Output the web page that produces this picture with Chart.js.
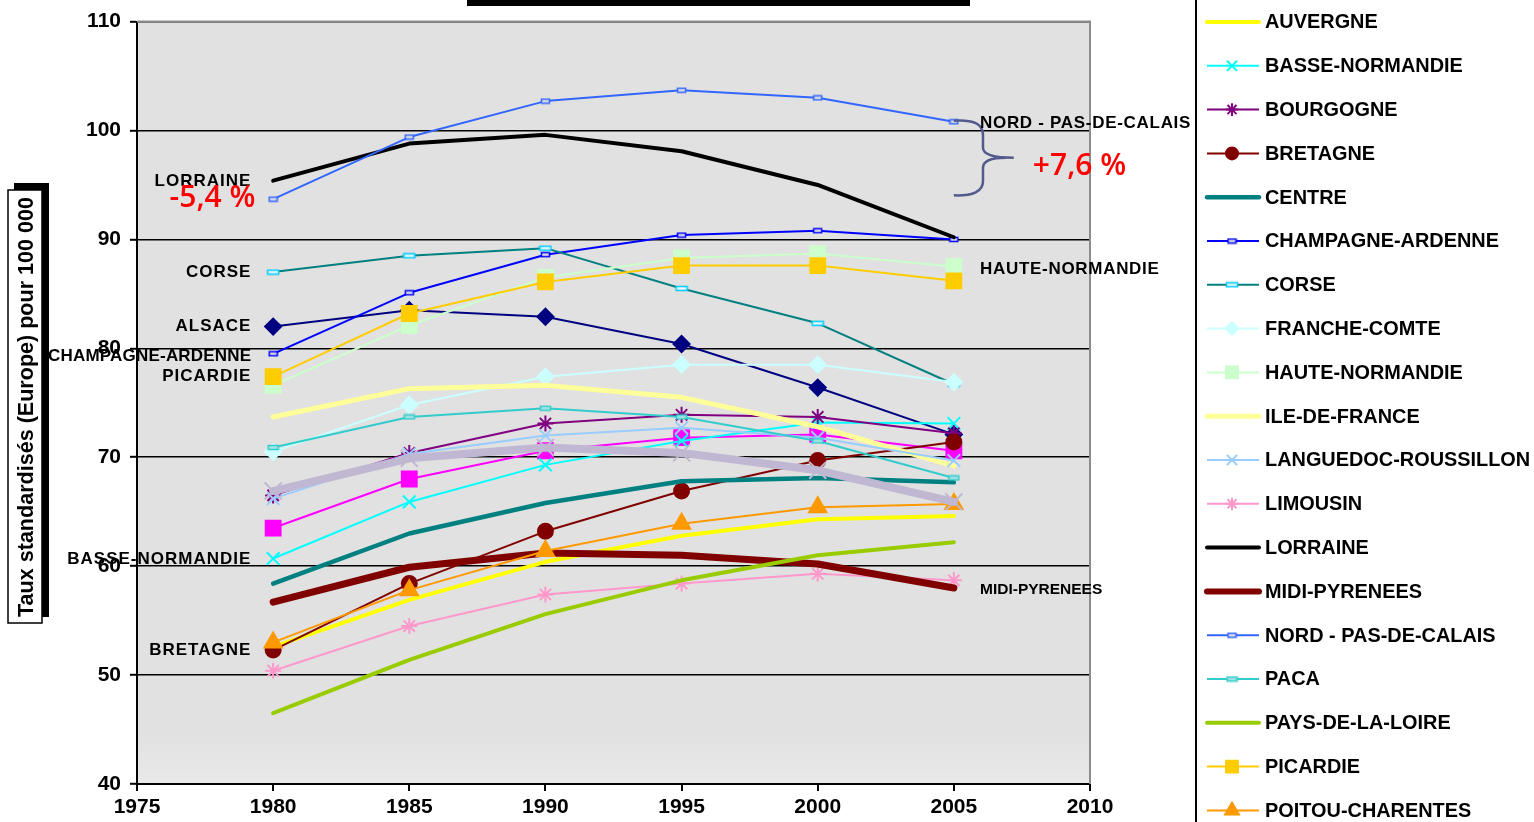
<!DOCTYPE html>
<html lang="fr">
<head>
<meta charset="utf-8">
<title>Taux standardisés par région</title>
<script src="https://cdn.jsdelivr.net/npm/chart.js"></script>
<style>
  html, body { margin: 0; padding: 0; background: #fff; }
  #wrap { position: relative; width: 1534px; height: 822px; overflow: hidden; }
  canvas { display: block; }
</style>
</head>
<body>
<div id="wrap"><canvas id="chart" width="1534" height="822"></canvas></div>
<script>
// --- data ---
const years = [1980, 1985, 1990, 1995, 2000, 2005];

const xTickValues = [1975, 1980, 1985, 1990, 1995, 2000, 2005, 2010];
const xTickLabels = ['1975', '1980', '1985', '1990', '1995', '2000', '2005', '2010'];
const yTickValues = [40, 50, 60, 70, 80, 90, 100, 110];
const yTickLabels = ['40', '50', '60', '70', '80', '90', '100', '110'];

const regions = ['ALSACE', 'AQUITAINE', 'AUVERGNE', 'BASSE-NORMANDIE', 'BOURGOGNE', 'BRETAGNE',
  'CENTRE', 'CHAMPAGNE-ARDENNE', 'CORSE', 'FRANCHE-COMTE', 'HAUTE-NORMANDIE', 'ILE-DE-FRANCE',
  'LANGUEDOC-ROUSSILLON', 'LIMOUSIN', 'LORRAINE', 'MIDI-PYRENEES', 'NORD - PAS-DE-CALAIS', 'PACA',
  'PAYS-DE-LA-LOIRE', 'PICARDIE', 'POITOU-CHARENTES', 'RHONE-ALPES'];

const alsace         = [82.0, 83.5, 82.9, 80.4, 76.4, 72.1];
const aquitaine      = [63.5, 68.0, 70.6, 71.8, 72.1, 70.6];
const auvergne       = [52.6, 56.9, 60.4, 62.8, 64.3, 64.6];
const basseNormandie = [60.7, 65.9, 69.3, 71.5, 73.2, 73.1];
const bourgogne      = [66.5, 70.4, 73.1, 73.9, 73.7, 72.2];
const bretagne       = [52.3, 58.4, 63.2, 66.9, 69.7, 71.4];
const centre         = [58.4, 63.0, 65.8, 67.8, 68.1, 67.7];
const champagne      = [79.5, 85.1, 88.6, 90.4, 90.8, 90.0];
const corse          = [87.0, 88.5, 89.2, 85.5, 82.3, 76.7];
const francheComte   = [70.5, 74.8, 77.4, 78.5, 78.5, 76.9];
const hauteNormandie = [76.6, 82.1, 86.5, 88.3, 88.7, 87.5];
const ileDeFrance    = [73.7, 76.3, 76.6, 75.5, 72.8, 69.2];
const languedoc      = [66.2, 70.3, 72.0, 72.7, 71.8, 69.7];
const limousin       = [50.4, 54.5, 57.4, 58.4, 59.3, 58.7];
const lorraine       = [95.4, 98.8, 99.6, 98.1, 95.0, 90.2];
const midiPyrenees   = [56.7, 59.9, 61.2, 61.0, 60.2, 58.0];
const nordPdc        = [93.7, 99.4, 102.7, 103.7, 103.0, 100.8];
const paca           = [70.9, 73.7, 74.5, 73.7, 71.5, 68.1];
const paysLoire      = [46.5, 51.4, 55.6, 58.7, 61.0, 62.2];
const picardie       = [77.4, 83.2, 86.1, 87.6, 87.6, 86.2];
const poitou         = [53.0, 57.8, 61.4, 63.9, 65.4, 65.7];
const rhoneAlpes     = [66.9, 69.9, 70.9, 70.4, 68.8, 65.9];

const values = [alsace, aquitaine, auvergne, basseNormandie, bourgogne, bretagne, centre,
  champagne, corse, francheComte, hauteNormandie, ileDeFrance, languedoc, limousin, lorraine,
  midiPyrenees, nordPdc, paca, paysLoire, picardie, poitou, rhoneAlpes];

// labels written inside the plot
const noteText  = ['LORRAINE', 'CORSE', 'ALSACE', 'CHAMPAGNE-ARDENNE', 'PICARDIE', 'BASSE-NORMANDIE', 'BRETAGNE',
                   'NORD - PAS-DE-CALAIS', 'HAUTE-NORMANDIE', 'MIDI-PYRENEES'];
const noteValue = [95.3, 87.0, 82.0, 79.3, 77.4, 60.6, 52.3, 100.7, 87.3, 57.8];
const pctText   = ['-5,4 %', '+7,6 %'];
const pctValue  = [93.8, 96.7];

// --- styles ---
function dash(stroke, fill, w, h) {
  const c = document.createElement('canvas');
  c.width = w + 3; c.height = h + 3;
  const g = c.getContext('2d');
  g.fillStyle = fill;
  g.fillRect(1.5, 1.5, w, h);
  g.strokeStyle = stroke;
  g.lineWidth = 1.5;
  g.strokeRect(1.5, 1.5, w, h);
  return c;
}

const looks = {
  'ALSACE':               { color: '#000080', width: 2, marker: 'rectRot', r: 8 },
  'AQUITAINE':            { color: '#FF00FF', width: 2, marker: 'rect', r: 10.5 },
  'AUVERGNE':             { color: '#FFFF00', width: 4 },
  'BASSE-NORMANDIE':      { color: '#00FFFF', width: 2, marker: 'crossRot', r: 9 },
  'BOURGOGNE':            { color: '#800080', width: 2, marker: 'star', r: 8 },
  'BRETAGNE':             { color: '#800000', width: 2, marker: 'circle', r: 7.5 },
  'CENTRE':               { color: '#008080', width: 4.5 },
  'CHAMPAGNE-ARDENNE':    { color: '#0000FF', width: 2, marker: dash('#0000FF', '#E1E1E1', 8, 4), r: 4 },
  'CORSE':                { color: '#008080', width: 2, marker: dash('#00CCFF', '#E8F8FF', 11, 4), r: 4 },
  'FRANCHE-COMTE':        { color: '#CCFFFF', width: 2, marker: 'rectRot', r: 8 },
  'HAUTE-NORMANDIE':      { color: '#CCFFCC', width: 2, marker: 'rect', r: 10.5 },
  'ILE-DE-FRANCE':        { color: '#FFFF99', width: 5 },
  'LANGUEDOC-ROUSSILLON': { color: '#99CCFF', width: 2, marker: 'crossRot', r: 9 },
  'LIMOUSIN':             { color: '#FF99CC', width: 2, marker: 'star', r: 8 },
  'LORRAINE':             { color: '#000000', width: 4 },
  'MIDI-PYRENEES':        { color: '#800000', width: 7 },
  'NORD - PAS-DE-CALAIS': { color: '#3366FF', width: 2, marker: dash('#3366FF', '#E1E1E1', 8, 4), r: 4 },
  'PACA':                 { color: '#33CCCC', width: 2, marker: dash('#33CCCC', '#A8E4E4', 10, 4), r: 4 },
  'PAYS-DE-LA-LOIRE':     { color: '#99CC00', width: 4 },
  'PICARDIE':             { color: '#FFCC00', width: 2, marker: 'rect', r: 10.5 },
  'POITOU-CHARENTES':     { color: '#FF9900', width: 2, marker: 'triangle', r: 10 },
  'RHONE-ALPES':          { color: '#C0B8D2', width: 8, marker: 'crossRot', r: 12 }
};

const FONT = 'Liberation Sans, Arial, sans-serif';

const datasets = regions.map((name, i) => {
  const s = looks[name];
  return {
    label: name,
    data: years.map((yr, j) => ({ x: yr, y: values[i][j] })),
    borderColor: s.color,
    backgroundColor: s.color,
    borderWidth: s.width,
    pointStyle: s.marker || 'circle',
    pointRadius: s.marker ? s.r : 0,
    pointHoverRadius: s.marker ? s.r : 0,
    pointBorderColor: s.color,
    pointBackgroundColor: s.color,
    pointBorderWidth: 2,
    tension: 0,
    borderJoinStyle: 'round',
    borderCapStyle: 'round',
    order: -i,
    clip: false
  };
});

// plot background, border, y title box, title bar
const framePlugin = {
  id: 'frame',
  beforeDraw(chart) {
    const { ctx, chartArea: a } = chart;
    ctx.save();
    const g = ctx.createLinearGradient(0, a.top, 0, a.bottom);
    g.addColorStop(0, '#E1E1E1');
    g.addColorStop(0.93, '#E1E1E1');
    g.addColorStop(1, '#E9E9E9');
    ctx.fillStyle = g;
    ctx.fillRect(a.left, a.top, a.right - a.left, a.bottom - a.top);
    ctx.restore();
  },
  beforeDatasetsDraw(chart) {
    const { ctx, chartArea: a } = chart;
    ctx.save();
    ctx.strokeStyle = '#8C8C8C';
    ctx.lineWidth = 2;
    ctx.beginPath();
    ctx.moveTo(a.left, a.top);
    ctx.lineTo(a.right, a.top);
    ctx.lineTo(a.right, a.bottom);
    ctx.stroke();
    ctx.restore();
  },
  afterDraw(chart) {
    const ctx = chart.ctx;
    ctx.save();
    // cropped title box at the top
    ctx.fillStyle = '#000';
    ctx.fillRect(467, 0, 503, 6);
    // y axis title in a box with shadow
    ctx.fillStyle = '#000';
    ctx.fillRect(14, 183, 35, 434);
    ctx.fillStyle = '#fff';
    ctx.fillRect(8, 190, 34, 433);
    ctx.strokeStyle = '#000';
    ctx.lineWidth = 1.5;
    ctx.strokeRect(8, 190, 34, 433);
    const title = 'Taux standardisés (Europe) pour 100 000';
    let size = 19;
    ctx.font = 'bold ' + size + 'px ' + FONT;
    size = size * 420 / ctx.measureText(title).width;
    ctx.font = 'bold ' + size.toFixed(2) + 'px ' + FONT;
    ctx.translate(26, 407);
    ctx.rotate(-Math.PI / 2);
    ctx.fillStyle = '#000';
    ctx.textAlign = 'center';
    ctx.textBaseline = 'middle';
    ctx.fillText(title, 0, 1);
    ctx.restore();
  }
};

// notes, percentages and the brace inside the plot
const notesPlugin = {
  id: 'notes',
  afterDraw(chart) {
    const { ctx, scales: { x, y } } = chart;
    ctx.save();
    // brace
    const x0 = x.getPixelForValue(2005.0), xm = x.getPixelForValue(2006.07), xt = x.getPixelForValue(2007.2);
    const yT = y.getPixelForValue(100.9), yM = y.getPixelForValue(97.5), yB = y.getPixelForValue(94.05);
    ctx.strokeStyle = '#525A8C';
    ctx.lineWidth = 2.5;
    ctx.beginPath();
    ctx.moveTo(x0, yT);
    ctx.quadraticCurveTo(xm, yT - 2, xm, yT + 14);
    ctx.lineTo(xm, yM - 10);
    ctx.quadraticCurveTo(xm, yM, xt, yM);
    ctx.moveTo(xt - 8, yM);
    ctx.quadraticCurveTo(xm, yM, xm, yM + 10);
    ctx.lineTo(xm, yB - 14);
    ctx.quadraticCurveTo(xm, yB + 1, x0, yB);
    ctx.stroke();

    ctx.fillStyle = '#000';
    ctx.textBaseline = 'middle';
    noteText.forEach((t, i) => {
      const right = i > 6;
      const py = y.getPixelForValue(noteValue[i]);
      if (t === 'MIDI-PYRENEES') {
        ctx.font = 'bold 15.5px ' + FONT;
        ctx.letterSpacing = '0px';
      } else {
        ctx.font = 'bold 17px ' + FONT;
        ctx.letterSpacing = t === 'CHAMPAGNE-ARDENNE' ? '0.2px' : (right ? '0.7px' : '1px');
      }
      if (right) {
        ctx.textAlign = 'left';
        ctx.fillText(t, x.getPixelForValue(2005.96), py);
      } else {
        ctx.textAlign = 'right';
        ctx.fillText(t, x.getPixelForValue(1979.2), py);
      }
    });
    ctx.letterSpacing = '0px';
    ctx.fillStyle = '#FF0000';
    ctx.font = '600 30px "Open Sans", ' + FONT;
    ctx.textAlign = 'right';
    ctx.fillText(pctText[0], x.getPixelForValue(1979.35), y.getPixelForValue(pctValue[0]));
    ctx.textAlign = 'left';
    ctx.fillText(pctText[1], x.getPixelForValue(2007.9), y.getPixelForValue(pctValue[1]));
    ctx.restore();
  }
};

// legend on the right, cropped like the picture (rows run past the edges)
const legendPlugin = {
  id: 'sideLegend',
  afterDraw(chart) {
    const ctx = chart.ctx;
    const top = 22, step = 43.8, first = 2;
    ctx.save();
    ctx.strokeStyle = '#000';
    ctx.lineWidth = 2;
    ctx.beginPath();
    ctx.moveTo(1196, 0);
    ctx.lineTo(1196, 822);
    ctx.stroke();
    chart.data.datasets.forEach((ds, i) => {
      const yy = top + (i - first) * step;
      ctx.strokeStyle = ds.borderColor;
      ctx.lineWidth = Math.min(ds.borderWidth, 6);
      ctx.lineCap = ds.borderWidth > 3 ? 'round' : 'butt';
      ctx.beginPath();
      ctx.moveTo(1207, yy);
      ctx.lineTo(1259, yy);
      ctx.stroke();
      if (ds.pointRadius > 0) {
        ctx.fillStyle = ds.pointBackgroundColor;
        ctx.strokeStyle = ds.pointBorderColor;
        ctx.lineWidth = 2;
        Chart.helpers.drawPoint(ctx, {
          pointStyle: ds.pointStyle, radius: ds.pointRadius * 0.8, borderWidth: 2, rotation: 0
        }, 1232, yy);
      }
      ctx.fillStyle = '#000';
      ctx.font = 'bold 19.9px ' + FONT;
      ctx.textAlign = 'left';
      ctx.textBaseline = 'middle';
      ctx.fillText(ds.label, 1265, yy + 1);
    });
    ctx.restore();
  }
};

new Chart(document.getElementById('chart'), {
  type: 'line',
  data: { datasets: datasets },
  plugins: [framePlugin, notesPlugin, legendPlugin],
  options: {
    responsive: false,
    animation: false,
    devicePixelRatio: 1,
    layout: { padding: { top: 20, right: 444, bottom: 0, left: 0 } },
    plugins: { legend: { display: false }, tooltip: { enabled: false }, title: { display: false } },
    scales: {
      x: {
        type: 'linear', min: 1975, max: 2010,
        afterBuildTicks: s => { s.ticks = xTickValues.map(v => ({ value: v })); },
        afterFit: s => { s.height = 38; },
        ticks: {
          callback: (v, i) => xTickLabels[i],
          font: { family: FONT, size: 21, weight: 'bold' },
          color: '#000', padding: 4, maxRotation: 0, autoSkip: false
        },
        grid: { drawOnChartArea: false, drawTicks: true, tickLength: 7, color: '#000', lineWidth: 2 },
        border: { color: '#000', width: 2 }
      },
      y: {
        type: 'linear', min: 40, max: 110,
        afterBuildTicks: s => { s.ticks = yTickValues.map(v => ({ value: v })); },
        afterFit: s => { s.width = 137; },
        ticks: {
          callback: (v, i) => yTickLabels[i],
          font: { family: FONT, size: 21, weight: 'bold' },
          color: '#000', padding: 9
        },
        grid: { color: '#000', lineWidth: 1.6, tickLength: 7, tickColor: '#000', tickWidth: 2 },
        border: { color: '#000', width: 2 }
      }
    }
  }
});
</script>
</body>
</html>
